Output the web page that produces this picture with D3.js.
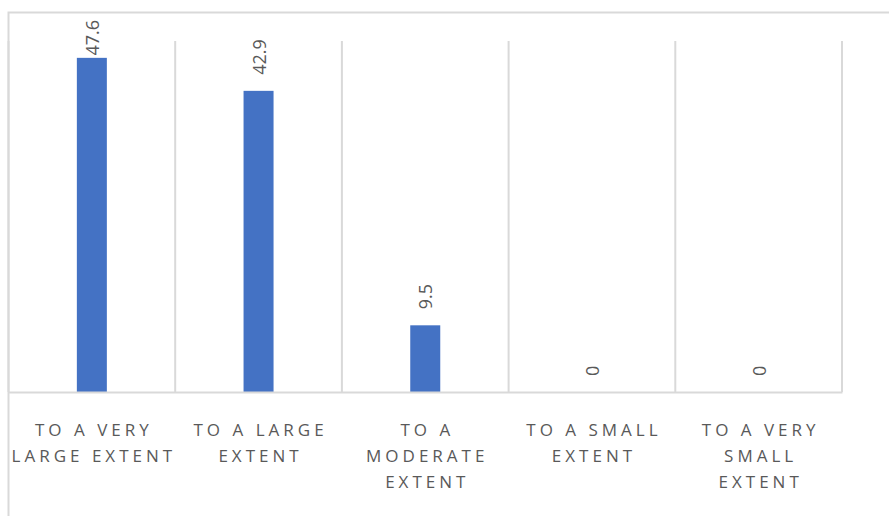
<!DOCTYPE html>
<html>
<head>
<meta charset="utf-8">
<script src="https://cdn.jsdelivr.net/npm/d3@7"></script>
<style>
  html, body { margin: 0; padding: 0; background: #fff; }
  svg { display: block; }
</style>
</head>
<body>
<div id="chart"></div>
<script>
// Share of responses per extent category (%)
const categories = [
  ["TO A VERY", "LARGE EXTENT"],
  ["TO A LARGE", "EXTENT"],
  ["TO A", "MODERATE", "EXTENT"],
  ["TO A SMALL", "EXTENT"],
  ["TO A VERY", "SMALL", "EXTENT"]
];
const values = [47.6, 42.9, 9.5, 0, 0];
const valueLabels = ["47.6", "42.9", "9.5", "0", "0"];

const W = 889, H = 516;
const plot = { left: 8.5, right: 842, top: 41, bottom: 392 };
const textColor = "#595959";
const gridColor = "#d9d9d9";

const svg = d3.select("#chart").append("svg")
  .attr("width", W).attr("height", H);

// chart frame
svg.append("rect")
  .attr("x", 8.5).attr("y", 12.5)
  .attr("width", 900).attr("height", 600)
  .attr("fill", "none").attr("stroke", gridColor).attr("stroke-width", 2);

const keys = categories.map((c, i) => i);
const x = d3.scaleBand().domain(keys).range([plot.left, plot.right]).paddingInner(0).paddingOuter(0);
const y = d3.scaleLinear().domain([0, 50]).range([plot.bottom, plot.top]);

// vertical category separators
const bounds = keys.map(k => x(k)).concat([plot.right]);
svg.append("g").selectAll("line").data(bounds).join("line")
  .attr("x1", d => d).attr("x2", d => d)
  .attr("y1", plot.top).attr("y2", plot.bottom)
  .attr("stroke", gridColor).attr("stroke-width", 2);

// bars
const barW = 30;
svg.append("g").selectAll("rect").data(values).join("rect")
  .attr("x", (d, i) => x(i) + x.bandwidth() / 2 - barW / 2)
  .attr("y", d => y(d))
  .attr("width", barW)
  .attr("height", d => y(0) - y(d))
  .attr("fill", "#4472C4");

// baseline axis
const axis = d3.axisBottom(x).tickSize(0).tickFormat("");
const gx = svg.append("g").attr("transform", `translate(0,${plot.bottom})`).call(axis);
gx.select(".domain").attr("stroke", gridColor).attr("stroke-width", 2);

// rotated value labels
const vl = svg.append("g").selectAll("text").data(values).join("text")
  .text((d, i) => valueLabels[i])
  .attr("font-family", "'Open Sans', sans-serif")
  .attr("font-size", 18)
  .attr("fill", textColor)
  .attr("text-anchor", "start")
  .attr("dominant-baseline", "central");
vl.each(function (d, i) {
  const len = this.getComputedTextLength();
  let start = y(d) - 16;
  if (start - len < 20) start = 20 + len;
  const cx = x(i) + x.bandwidth() / 2;
  d3.select(this).attr("transform", `translate(${cx},${start}) rotate(-90)`);
});

// category labels
const cl = svg.append("g").selectAll("text").data(categories).join("text")
  .attr("font-family", "'Open Sans', sans-serif")
  .attr("font-size", 17)
  .attr("letter-spacing", "4px")
  .attr("fill", textColor)
  .attr("text-anchor", "middle")
  .attr("transform", (d, i) => `translate(${x(i) + x.bandwidth() / 2 + 2},429)`);
cl.selectAll("tspan").data(d => d).join("tspan")
  .attr("x", 0)
  .attr("y", (d, j) => j * 26)
  .attr("dominant-baseline", "central")
  .text(d => d);
</script>
</body>
</html>
